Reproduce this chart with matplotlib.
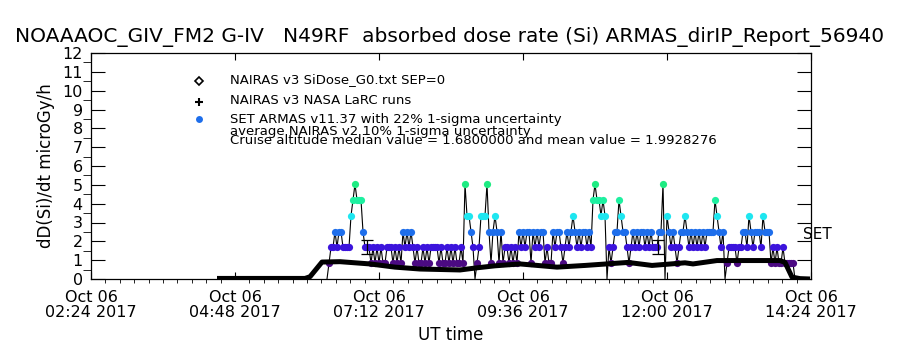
import matplotlib
matplotlib.use("Agg")
import matplotlib.pyplot as plt
from matplotlib.lines import Line2D
from datetime import datetime, timedelta

# fecha del vuelo
day = datetime(2017, 10, 6)

def t(hhmm):
    h, m = hhmm.split(":")
    return day + timedelta(hours=int(h), minutes=int(m))

# ejes
tick_times = ["02:24", "04:48", "07:12", "09:36", "12:00", "14:24"]
tick_labels = ["Oct 06\n" + s + " 2017" for s in tick_times]

# NAIRAS v3 (linea negra)
nairas_times = ["04:30", "05:58", "06:03", "06:15", "06:33", "07:03", "07:28", "07:53",
                "08:33", "08:51", "09:08", "09:33", "10:10", "10:38", "11:21", "11:45",
                "12:18", "12:26", "12:50", "13:53", "13:58", "14:05", "14:13", "14:23"]
nairas_dose = [0.03, 0.03, 0.12, 0.9, 0.92, 0.8, 0.63, 0.53,
               0.48, 0.6, 0.7, 0.8, 0.63, 0.72, 0.88, 0.72,
               0.86, 0.8, 0.98, 0.98, 0.88, 0.1, 0.02, 0.0]

# ARMAS: niveles (multiplos de 0.84 microGy/h), cada 2 minutos desde 06:20
armas_start = "06:20"
armas_step_min = 2
armas_quantum = 0.84
armas_levels = [
    0, 1, 2, 2, 3, 2, 3, 3, 2, 2, 2, 2, 4, 5, 6, 5, 5, 5, 3, 2,
    2, 2, 1, 2, 1, 2, 1, 2, 1, 1, 2, 2, 2, 1, 2, 1, 2, 1, 3, 2,
    3, 2, 3, 2, 1, 2, 1, 1, 2, 1, 2, 1, 2, 2, 2, 2, 1, 2, 1, 1,
    2, 1, 2, 1, 2, 1, 1, 2, 1, 6, 4, 4, 3, 2, 0, 1, 2, 4, 4, 4,
    6, 3, 1, 3, 4, 3, 1, 3, 1, 2, 2, 1, 2, 1, 2, 1, 3, 2, 3, 2,
    3, 3, 1, 3, 2, 3, 2, 3, 3, 1, 2, 1, 1, 3, 2, 3, 3, 2, 1, 2,
    3, 2, 3, 4, 3, 2, 3, 2, 3, 3, 2, 3, 2, 5, 6, 5, 5, 4, 5, 4,
    0, 2, 1, 2, 3, 3, 5, 4, 3, 3, 2, 1, 2, 3, 2, 3, 2, 3, 3, 2,
    3, 2, 3, 2, 2, 2, 3, 3, 6, 0, 4, 3, 2, 3, 2, 1, 2, 3, 3, 4,
    3, 2, 3, 2, 3, 2, 3, 2, 3, 2, 3, 3, 3, 3, 5, 4, 3, 2, 3, 0,
    1, 2, 2, 2, 2, 1, 2, 2, 3, 3, 2, 4, 3, 2, 3, 3, 3, 2, 4, 3,
    3, 3, 1, 2, 1, 2, 1, 1, 2, 1, 1, 1, 1, 1, 0]
level_colors = ["#000000", "#4b0a82", "#3c14dc", "#1e6eeb", "#1ee6f0", "#1ef0a0", "#1eeb82"]

# barras de incertidumbre 22%
err_times = ["07:00", "11:51"]
err_value = 1.68
err_frac = 0.22

fig = plt.figure(figsize=(9, 3.5), dpi=100)
ax = fig.add_axes([91 / 900, 1 - 279 / 350, 720 / 900, 226 / 350])

nt = [t(s) for s in nairas_times]
ax.plot(nt, nairas_dose, color="black", lw=3.6, solid_capstyle="butt", zorder=6)

t0 = t(armas_start)
at = [t0 + timedelta(minutes=armas_step_min * i) for i in range(len(armas_levels))]
ad = [lv * armas_quantum for lv in armas_levels]
ax.plot(at, ad, color="black", lw=0.8, zorder=3)
for lv in range(1, 7):
    xs = [x for x, l in zip(at, armas_levels) if l == lv]
    ys = [lv * armas_quantum] * len(xs)
    ax.plot(xs, ys, ls="none", marker="o", ms=5.2, mec="none",
            color=level_colors[lv], zorder=4)

ax.errorbar([t(s) for s in err_times], [err_value] * 2, yerr=err_value * err_frac,
            fmt="none", ecolor="black", elinewidth=0.9, capsize=4, capthick=0.9, zorder=5)

ax.text(t("14:16"), 2.35, "SET", fontsize=11, va="center", ha="left", clip_on=False)

ax.set_xlim(t(tick_times[0]), t(tick_times[-1]))
ax.set_ylim(0, 12)
ax.set_xticks([t(s) for s in tick_times])
ax.set_xticklabels(tick_labels, fontsize=11.5, linespacing=1.0)
minor = [t(tick_times[0]) + timedelta(minutes=14.4 * i) for i in range(51)]
ax.set_xticks(minor, minor=True)
ax.set_yticks(range(0, 13))
ax.set_yticks([i + 0.5 for i in range(12)], minor=True)
ax.tick_params(axis="both", direction="in", top=True, right=True, width=0.8)
ax.tick_params(axis="x", which="major", length=5, pad=8)
ax.tick_params(axis="x", which="minor", length=3)
ax.tick_params(axis="y", which="major", length=10, pad=6, labelsize=11.5)
ax.tick_params(axis="y", which="minor", length=6)
for sp in ax.spines.values():
    sp.set_linewidth(0.9)

ax.set_xlabel("UT time", fontsize=12, labelpad=4)
ax.set_ylabel("dD(Si)/dt microGy/h", fontsize=12, labelpad=5)

fig.text(0.5, 1 - 37 / 350, "NOAAAOC_GIV_FM2 G-IV   N49RF  absorbed dose rate (Si) ARMAS_dirIP_Report_56940",
         ha="center", va="center", fontsize=14.5)

# leyenda
fig.add_artist(Line2D([199 / 900], [1 - 81 / 350], marker="D", ms=4, mfc="white", mec="black",
                      mew=1.2, transform=fig.transFigure))
fig.add_artist(Line2D([199 / 900], [1 - 102 / 350], marker="+", ms=6, color="black",
                      mew=1.5, transform=fig.transFigure))
fig.add_artist(Line2D([199 / 900], [1 - 119 / 350], marker="o", ms=5, color="#1e6eeb",
                      mec="none", transform=fig.transFigure))
leg = [(80, "NAIRAS v3 SiDose_G0.txt SEP=0"),
       (100, "NAIRAS v3 NASA LaRC runs"),
       (119, "SET ARMAS v11.37 with 22% 1-sigma uncertainty"),
       (131, "average NAIRAS v2 10% 1-sigma uncertainty"),
       (141, "Cruise altitude median value = 1.6800000 and mean value = 1.9928276")]
for y, s in leg:
    fig.text(230 / 900, 1 - y / 350, s, ha="left", va="center", fontsize=9.5)

fig.savefig("out.png", dpi=100)
